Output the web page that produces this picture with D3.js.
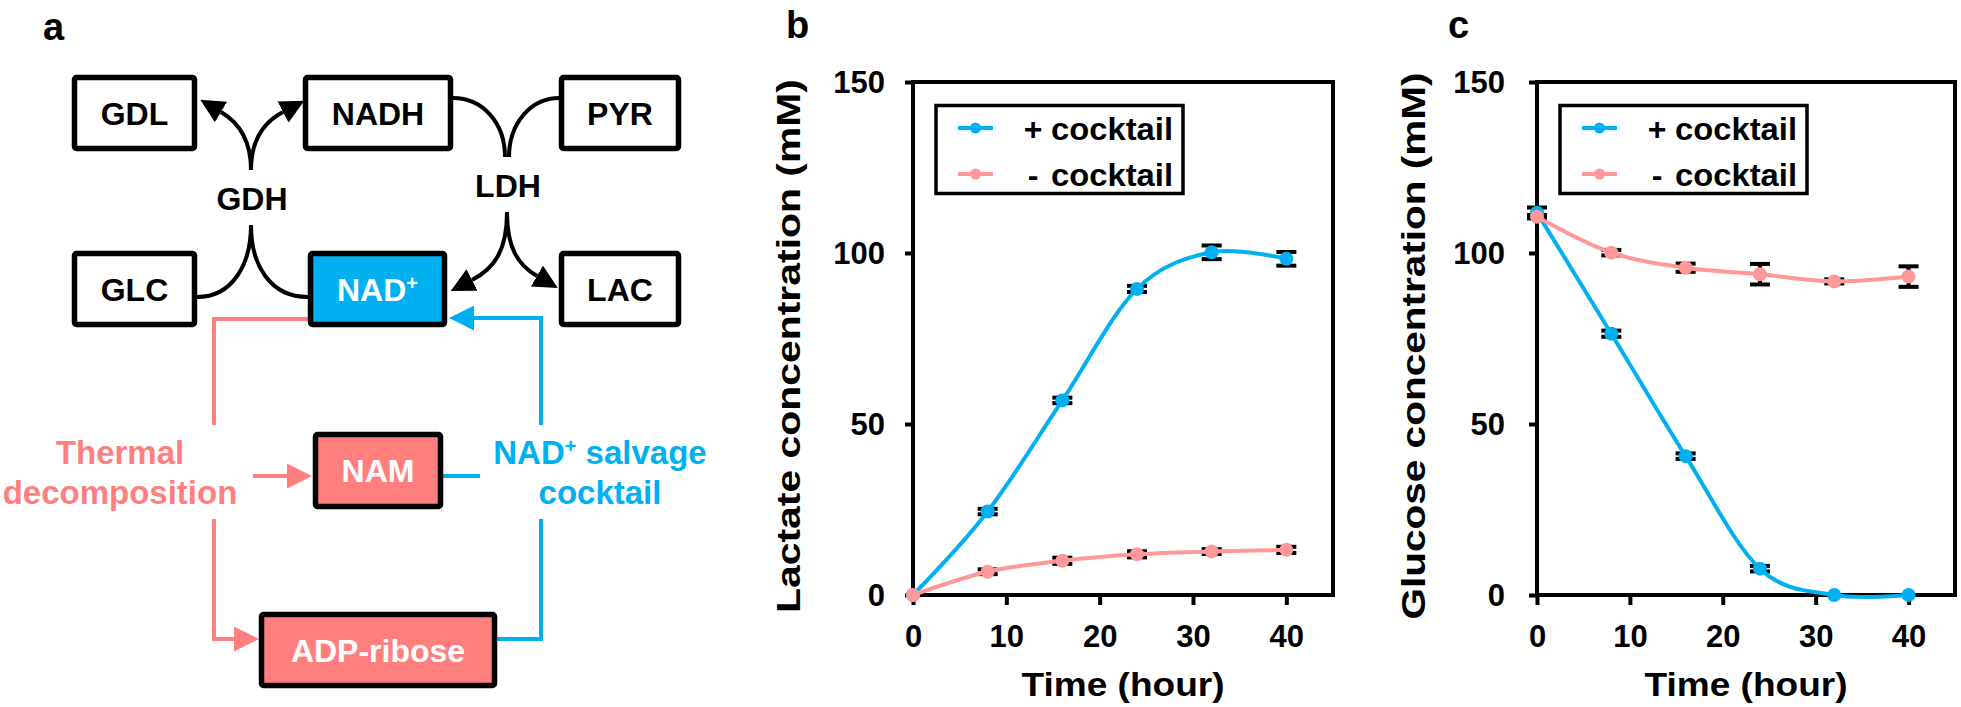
<!DOCTYPE html>
<html><head><meta charset="utf-8">
<script src="https://cdn.jsdelivr.net/npm/d3@7"></script>
<style>
body{margin:0;background:#fff}
svg{display:block}
text{font-family:'Liberation Sans',Arial,Helvetica,sans-serif;font-weight:bold}
</style>
</head><body>
<svg id="fig" width="1961" height="707"></svg>
<script>
// ---------------- data ----------------
const hours = [0, 8, 16, 24, 32, 40];
const lactatePlus = [0, 24.4, 56.9, 89.5, 100.2, 98.3];
const lactatePlusErr = [0, 0.8, 0.8, 0.9, 2.0, 2.0];
const lactateMinus = [0, 6.8, 10.0, 11.9, 12.7, 13.2];
const lactateMinusErr = [0, 0.7, 0.9, 0.9, 0.7, 0.9];
const glucosePlus = [111.8, 76.4, 40.6, 7.7, 0, 0];
const glucosePlusErr = [1.5, 0.9, 0.8, 0.8, 0, 0];
const glucoseMinus = [110.6, 100.1, 95.7, 93.8, 91.7, 93.1];
const glucoseMinusErr = [0.5, 0.8, 1.2, 3.0, 0.6, 3.0];
const xTicks = [0, 10, 20, 30, 40];
const yTicks = [0, 50, 100, 150];
const seriesSymbols = ['+', '-'];
const seriesWord = 'cocktail';
const xTitle = 'Time (hour)';
const yTitles = ['Lactate concentration (mM)', 'Glucose concentration (mM)'];
const panelLetters = ['a', 'b', 'c'];
const diagramNodes = ['GDL', 'NADH', 'PYR', 'GLC', 'NAD', 'LAC', 'NAM', 'ADP-ribose'];
const enzymes = ['GDH', 'LDH'];

// ---------------- style ----------------
const BLUE = '#00B0F0';
const PINK_CHART = '#FF9898';
const PINK = '#FF7F7F';

const svg = d3.select('#fig');

// panel letters
const letterPos = [[43, 40], [786, 38], [1448, 38]];
panelLetters.forEach((l, i) => {
  svg.append('text').attr('x', letterPos[i][0]).attr('y', letterPos[i][1])
    .attr('font-size', 38).text(l);
});

// ---------------- diagram (panel a) ----------------
const defs = svg.append('defs');
function arrowMarker(id, color, size) {
  defs.append('marker').attr('id', id)
    .attr('viewBox', '0 0 10 10').attr('refX', 0).attr('refY', 5)
    .attr('markerWidth', size).attr('markerHeight', size)
    .attr('markerUnits', 'userSpaceOnUse').attr('orient', 'auto')
    .append('path').attr('d', 'M0,0L10,5L0,10Z').attr('fill', color);
}
arrowMarker('arrK', '#000', 24);
arrowMarker('arrP', PINK, 25);
arrowMarker('arrB', BLUE, 25);

const boxLayout = {
  'GDL': {x: 74.5, y: 77.5, w: 120, h: 71, fill: '#fff', color: '#000'},
  'NADH': {x: 305.5, y: 77.5, w: 145, h: 71, fill: '#fff', color: '#000'},
  'PYR': {x: 561.5, y: 77.5, w: 117, h: 71, fill: '#fff', color: '#000'},
  'GLC': {x: 74.5, y: 253.5, w: 120, h: 71, fill: '#fff', color: '#000'},
  'NAD': {x: 310.5, y: 253.5, w: 134, h: 71, fill: BLUE, color: '#fff', sup: '+'},
  'LAC': {x: 561.5, y: 253.5, w: 117, h: 71, fill: '#fff', color: '#000'},
  'NAM': {x: 315.5, y: 434.5, w: 125, h: 72, fill: PINK, color: '#fff'},
  'ADP-ribose': {x: 261.5, y: 614.5, w: 233, h: 71, fill: PINK, color: '#fff'}
};

const dg = svg.append('g');
const blackPaths = [
  ['M197,297 C232,297 251,265 251,225', null],
  ['M308,297 C270,297 251,265 251,225', null],
  ['M251,170 C251,140 238,122 221,112', 'arrK'],
  ['M251,170 C251,140 264,122 283,112', 'arrK'],
  ['M453,98 C482,98 505,122 505,157', null],
  ['M559,98 C532,98 509,122 509,157', null],
  ['M507,212 C507,250 495,268 472,280', 'arrK'],
  ['M507,212 C507,248 518,265 537,276', 'arrK']
];
blackPaths.forEach(([d, m]) => {
  const p = dg.append('path').attr('d', d).attr('fill', 'none')
    .attr('stroke', '#000').attr('stroke-width', 4);
  if (m) p.attr('marker-end', `url(#${m})`);
});
const colorPaths = [
  ['M308,319 H214 V425', PINK, null],
  ['M214,519 V639 H234', PINK, 'arrP'],
  ['M253,476 H287', PINK, 'arrP'],
  ['M541,425 V318 H474', BLUE, 'arrB'],
  ['M443,476 H480', BLUE, null],
  ['M497,639 H541 V519', BLUE, null]
];
colorPaths.forEach(([d, c, m]) => {
  const p = dg.append('path').attr('d', d).attr('fill', 'none')
    .attr('stroke', c).attr('stroke-width', 4);
  if (m) p.attr('marker-end', `url(#${m})`);
});

diagramNodes.forEach(name => {
  const b = boxLayout[name];
  dg.append('rect').attr('x', b.x).attr('y', b.y).attr('width', b.w).attr('height', b.h)
    .attr('rx', 2).attr('fill', b.fill).attr('stroke', '#000').attr('stroke-width', 5.5);
  const t = dg.append('text').attr('x', b.x + b.w / 2).attr('y', b.y + b.h / 2)
    .attr('dy', '0.36em').attr('text-anchor', 'middle').attr('font-size', 32)
    .attr('fill', b.color);
  t.append('tspan').text(name);
  if (b.sup) t.append('tspan').attr('font-size', 20).attr('dy', -11).text(b.sup);
});

const enzymePos = {GDH: [252, 210], LDH: [508, 197]};
enzymes.forEach(e => {
  dg.append('text').attr('x', enzymePos[e][0]).attr('y', enzymePos[e][1])
    .attr('text-anchor', 'middle').attr('font-size', 32).text(e);
});

dg.append('text').attr('x', 120).attr('y', 464).attr('text-anchor', 'middle')
  .attr('font-size', 33).attr('fill', PINK).text('Thermal');
dg.append('text').attr('x', 120).attr('y', 504).attr('text-anchor', 'middle')
  .attr('font-size', 33).attr('fill', PINK).text('decomposition');
const sl = dg.append('text').attr('x', 600).attr('y', 464).attr('text-anchor', 'middle')
  .attr('font-size', 33).attr('fill', BLUE);
sl.append('tspan').text('NAD');
sl.append('tspan').attr('font-size', 20).attr('dy', -11).text('+');
sl.append('tspan').attr('dy', 11).text(' salvage');
dg.append('text').attr('x', 600).attr('y', 504).attr('text-anchor', 'middle')
  .attr('font-size', 33).attr('fill', BLUE).text('cocktail');

// ---------------- charts (panels b, c) ----------------
const panels = [
  {left: 913, right: 1333, top: 82, bottom: 595, title: yTitles[0], titleX: 788, titleLen: 534, pad: 20,
   plus: lactatePlus, plusErr: lactatePlusErr, minus: lactateMinus, minusErr: lactateMinusErr},
  {left: 1537, right: 1955, top: 82, bottom: 595, title: yTitles[1], titleX: 1413, titleLen: 547, pad: 24,
   plus: glucosePlus, plusErr: glucosePlusErr, minus: glucoseMinus, minusErr: glucoseMinusErr}
];

panels.forEach(P => {
  const g = svg.append('g');
  const x = d3.scaleLinear().domain([0, 45]).range([P.left, P.right]);
  const y = d3.scaleLinear().domain([0, 150]).range([P.bottom, P.top]);

  const ax = g.append('g').attr('transform', `translate(0,${P.bottom})`)
    .call(d3.axisBottom(x).tickValues(xTicks).tickSize(10).tickPadding(20));
  const ay = g.append('g').attr('transform', `translate(${P.left},0)`)
    .call(d3.axisLeft(y).tickValues(yTicks).tickSize(8).tickPadding(P.pad));
  [ax, ay].forEach(a => {
    a.select('.domain').remove();
    a.attr('font-family', null).attr('font-size', null);
    a.selectAll('.tick line').attr('stroke', '#000').attr('stroke-width', 4);
    a.selectAll('.tick text').attr('fill', '#000').attr('font-size', 31);
  });
  ay.selectAll('.tick text').attr('dy', '0.35em');

  g.append('rect').attr('x', P.left).attr('y', P.top)
    .attr('width', P.right - P.left).attr('height', P.bottom - P.top)
    .attr('fill', 'none').attr('stroke', '#000').attr('stroke-width', 4);

  g.append('text').attr('transform', `translate(${P.titleX},346) rotate(-90)`)
    .attr('text-anchor', 'middle').attr('dy', '0.35em').attr('font-size', 34)
    .attr('textLength', P.titleLen).attr('lengthAdjust', 'spacingAndGlyphs').text(P.title);
  g.append('text').attr('x', (P.left + P.right) / 2).attr('y', 696)
    .attr('text-anchor', 'middle').attr('font-size', 33)
    .attr('textLength', 203).attr('lengthAdjust', 'spacingAndGlyphs').text(xTitle);

  const series = [
    {vals: P.plus, errs: P.plusErr, color: BLUE},
    {vals: P.minus, errs: P.minusErr, color: PINK_CHART}
  ];
  const line = d3.line().x(d => x(d.t)).y(d => y(d.v)).curve(d3.curveCardinal.tension(0));

  series.forEach(s => {
    const pts = hours.map((t, i) => ({t, v: s.vals[i], e: s.errs[i]}));
    const eb = g.append('g').attr('stroke', '#000').attr('stroke-width', 4).attr('fill', 'none');
    pts.filter(p => p.e > 0).forEach(p => {
      const cx = x(p.t), y1 = y(p.v + p.e), y2 = y(p.v - p.e);
      eb.append('line').attr('x1', cx).attr('x2', cx).attr('y1', y1).attr('y2', y2);
      eb.append('line').attr('x1', cx - 10).attr('x2', cx + 10).attr('y1', y1).attr('y2', y1);
      eb.append('line').attr('x1', cx - 10).attr('x2', cx + 10).attr('y1', y2).attr('y2', y2);
    });
  });
  series.forEach(s => {
    const pts = hours.map((t, i) => ({t, v: s.vals[i]}));
    g.append('path').datum(pts).attr('d', line).attr('fill', 'none')
      .attr('stroke', s.color).attr('stroke-width', 4);
    g.selectAll(null).data(pts).enter().append('circle')
      .attr('cx', d => x(d.t)).attr('cy', d => y(d.v)).attr('r', 7).attr('fill', s.color);
  });

  const lx = P.left + 23, ly = 105.5;
  g.append('rect').attr('x', lx).attr('y', ly).attr('width', 247).attr('height', 88)
    .attr('fill', '#fff').attr('stroke', '#000').attr('stroke-width', 3.5);
  const rows = [128, 174];
  series.forEach((s, i) => {
    g.append('line').attr('x1', P.left + 45).attr('x2', P.left + 80)
      .attr('y1', rows[i]).attr('y2', rows[i]).attr('stroke', s.color).attr('stroke-width', 4);
    g.append('circle').attr('cx', P.left + 62.5).attr('cy', rows[i]).attr('r', 5.5).attr('fill', s.color);
    g.append('text').attr('x', P.left + 120).attr('y', rows[i] + 12).attr('text-anchor', 'middle')
      .attr('font-size', 32).text(seriesSymbols[i]);
    g.append('text').attr('x', P.left + 138).attr('y', rows[i] + 12)
      .attr('font-size', 32).attr('textLength', 122).attr('lengthAdjust', 'spacingAndGlyphs').text(seriesWord);
  });
});
</script>
</body></html>
